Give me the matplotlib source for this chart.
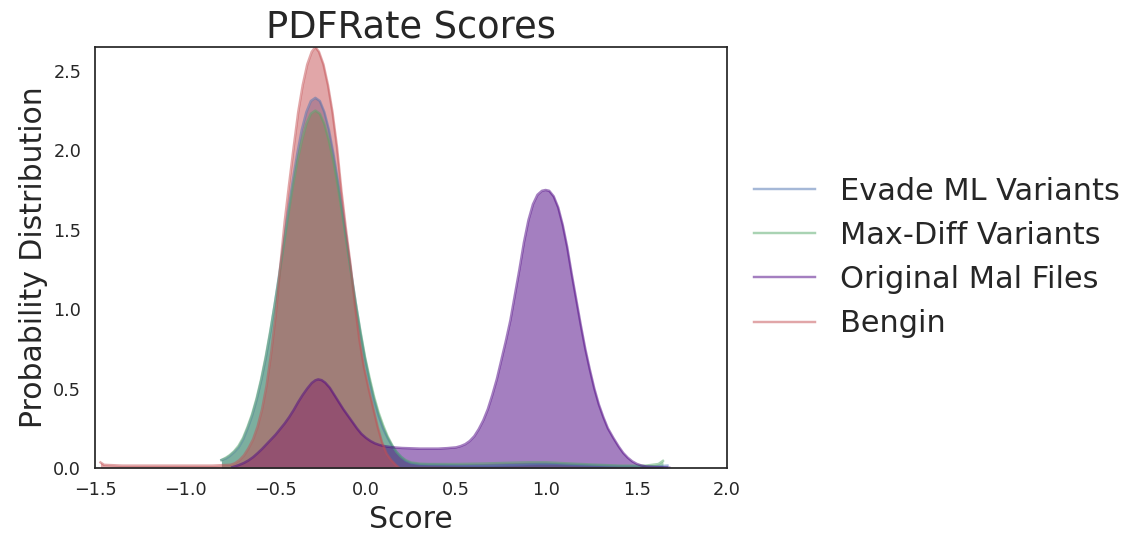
import matplotlib
matplotlib.use("Agg")
import matplotlib.pyplot as plt

# (score, density) pairs
evade_pts = [(-0.80, 0.05), (-0.775, 0.06), (-0.755, 0.075), (-0.73, 0.10), (-0.705, 0.13),
             (-0.68, 0.18), (-0.655, 0.25), (-0.63, 0.33), (-0.605, 0.43), (-0.58, 0.55),
             (-0.555, 0.69), (-0.53, 0.85), (-0.505, 1.03), (-0.48, 1.22), (-0.455, 1.42),
             (-0.43, 1.62), (-0.405, 1.81), (-0.38, 1.98), (-0.355, 2.13), (-0.33, 2.24),
             (-0.305, 2.31), (-0.28, 2.33), (-0.255, 2.31), (-0.23, 2.24), (-0.205, 2.13),
             (-0.18, 1.98), (-0.155, 1.81), (-0.13, 1.62), (-0.105, 1.42), (-0.08, 1.22),
             (-0.055, 1.03), (-0.03, 0.85), (-0.005, 0.69), (0.02, 0.55), (0.045, 0.43),
             (0.07, 0.33), (0.095, 0.25), (0.12, 0.19), (0.145, 0.14), (0.17, 0.10),
             (0.195, 0.07), (0.22, 0.045), (0.25, 0.03), (0.30, 0.022), (0.40, 0.02),
             (0.55, 0.015), (0.70, 0.015), (0.85, 0.02), (0.95, 0.025), (1.05, 0.025),
             (1.15, 0.02), (1.30, 0.015), (1.45, 0.01), (1.60, 0.01), (1.67, 0.015)]

maxdiff_pts = [(-0.80, 0.05), (-0.775, 0.065), (-0.755, 0.08), (-0.73, 0.105), (-0.705, 0.14),
               (-0.68, 0.19), (-0.655, 0.26), (-0.63, 0.34), (-0.605, 0.44), (-0.58, 0.56),
               (-0.555, 0.70), (-0.53, 0.86), (-0.505, 1.03), (-0.48, 1.21), (-0.455, 1.40),
               (-0.43, 1.59), (-0.405, 1.77), (-0.38, 1.93), (-0.355, 2.06), (-0.33, 2.165),
               (-0.305, 2.23), (-0.28, 2.25), (-0.255, 2.23), (-0.23, 2.165), (-0.205, 2.06),
               (-0.18, 1.93), (-0.155, 1.77), (-0.13, 1.59), (-0.105, 1.40), (-0.08, 1.21),
               (-0.055, 1.03), (-0.03, 0.86), (-0.005, 0.70), (0.02, 0.57), (0.045, 0.45),
               (0.07, 0.35), (0.095, 0.27), (0.12, 0.20), (0.145, 0.145), (0.17, 0.10),
               (0.195, 0.07), (0.22, 0.05), (0.25, 0.035), (0.30, 0.027), (0.35, 0.025),
               (0.50, 0.025), (0.65, 0.028), (0.80, 0.033), (0.90, 0.036), (1.00, 0.036),
               (1.10, 0.03), (1.25, 0.022), (1.40, 0.015), (1.55, 0.015), (1.62, 0.025),
               (1.645, 0.045)]

mal_pts = [(-0.74, 0.005), (-0.72, 0.012), (-0.70, 0.02), (-0.675, 0.032), (-0.65, 0.048),
           (-0.625, 0.068), (-0.60, 0.093), (-0.575, 0.12), (-0.55, 0.15), (-0.525, 0.18),
           (-0.50, 0.21), (-0.475, 0.245), (-0.45, 0.28), (-0.425, 0.32), (-0.40, 0.365),
           (-0.375, 0.415), (-0.35, 0.46), (-0.325, 0.50), (-0.30, 0.535), (-0.28, 0.552),
           (-0.264, 0.558), (-0.245, 0.553), (-0.225, 0.537), (-0.20, 0.505), (-0.175, 0.46),
           (-0.15, 0.415), (-0.125, 0.37), (-0.10, 0.33), (-0.075, 0.29), (-0.05, 0.25),
           (-0.025, 0.215), (0.0, 0.19), (0.025, 0.17), (0.05, 0.155), (0.075, 0.145),
           (0.10, 0.138), (0.15, 0.13), (0.20, 0.126), (0.30, 0.122), (0.40, 0.122),
           (0.45, 0.125), (0.50, 0.13), (0.525, 0.138), (0.55, 0.15), (0.575, 0.17),
           (0.60, 0.20), (0.625, 0.245), (0.65, 0.30), (0.675, 0.37), (0.70, 0.46),
           (0.725, 0.56), (0.75, 0.68), (0.775, 0.80), (0.80, 0.93), (0.825, 1.09),
           (0.85, 1.25), (0.875, 1.42), (0.90, 1.56), (0.925, 1.66), (0.95, 1.72),
           (0.975, 1.745), (0.995, 1.75), (1.015, 1.745), (1.04, 1.71), (1.065, 1.64),
           (1.09, 1.53), (1.115, 1.39), (1.14, 1.22), (1.165, 1.06), (1.19, 0.90),
           (1.215, 0.75), (1.24, 0.62), (1.265, 0.50), (1.29, 0.40), (1.315, 0.32),
           (1.34, 0.25), (1.37, 0.19), (1.40, 0.135), (1.425, 0.095), (1.45, 0.065),
           (1.475, 0.042), (1.50, 0.026), (1.525, 0.016), (1.55, 0.01), (1.60, 0.006),
           (1.65, 0.004), (1.68, 0.002)]

bengin_pts = [(-1.47, 0.035), (-1.45, 0.02), (-1.35, 0.015), (-1.2, 0.015), (-1.0, 0.015),
              (-0.85, 0.015), (-0.75, 0.02), (-0.725, 0.03), (-0.70, 0.05), (-0.675, 0.08),
              (-0.65, 0.125), (-0.625, 0.18), (-0.60, 0.26), (-0.575, 0.37), (-0.55, 0.52),
              (-0.525, 0.72), (-0.50, 0.96), (-0.475, 1.26), (-0.45, 1.55), (-0.425, 1.79),
              (-0.40, 2.02), (-0.375, 2.24), (-0.35, 2.41), (-0.325, 2.54), (-0.30, 2.62),
              (-0.28, 2.65), (-0.26, 2.62), (-0.235, 2.54), (-0.21, 2.41), (-0.185, 2.24),
              (-0.16, 2.02), (-0.135, 1.74), (-0.11, 1.50), (-0.085, 1.28), (-0.06, 1.02),
              (-0.035, 0.80), (-0.01, 0.63), (0.015, 0.50), (0.04, 0.38), (0.065, 0.26),
              (0.09, 0.16), (0.115, 0.09), (0.14, 0.05), (0.165, 0.02), (0.18, 0.005)]

labels = ["Evade ML Variants", "Max-Diff Variants", "Original Mal Files", "Bengin"]
colors = ["#4C72B0", "#55A868", "indigo", "#C44E52"]
series = [evade_pts, maxdiff_pts, mal_pts, bengin_pts]

text_color = "#262626"
plt.rcParams["font.family"] = ["DejaVu Sans"]
plt.rcParams["text.color"] = text_color
plt.rcParams["axes.labelcolor"] = text_color
plt.rcParams["xtick.color"] = text_color
plt.rcParams["ytick.color"] = text_color

fig = plt.figure(figsize=(11.22, 5.36), dpi=100)
ax = fig.add_subplot(111)
fig.subplots_adjust(left=0.0847, right=0.648, top=0.9123, bottom=0.1269)

for pts, col, lab in zip(series, colors, labels):
    xs = [p[0] for p in pts]
    ys = [p[1] for p in pts]
    ax.plot(xs, ys, color=col, alpha=0.5, lw=1.75, label=lab)
    ax.fill_between(xs, 0, ys, color=col, alpha=0.5, lw=0)

ax.set_xlim(-1.5, 2.0)
ax.set_ylim(0, 2.65)
ax.set_xticks([-1.5, -1.0, -0.5, 0.0, 0.5, 1.0, 1.5, 2.0])
ax.set_yticks([0.0, 0.5, 1.0, 1.5, 2.0, 2.5])
ax.tick_params(axis="both", length=0, labelsize=12.7)
ax.tick_params(axis="x", pad=9.5)
ax.tick_params(axis="y", pad=10)
for sp in ax.spines.values():
    sp.set_color(text_color)
    sp.set_linewidth(1.25)

ax.set_title("PDFRate Scores", fontsize=26.5)
ax.set_xlabel("Score", fontsize=21.5)
ax.set_ylabel("Probability Distribution", fontsize=21.5)

ax.legend(loc="center left", bbox_to_anchor=(1.0, 0.5), frameon=False, fontsize=21.9)

fig.savefig("out.png", dpi=100)
